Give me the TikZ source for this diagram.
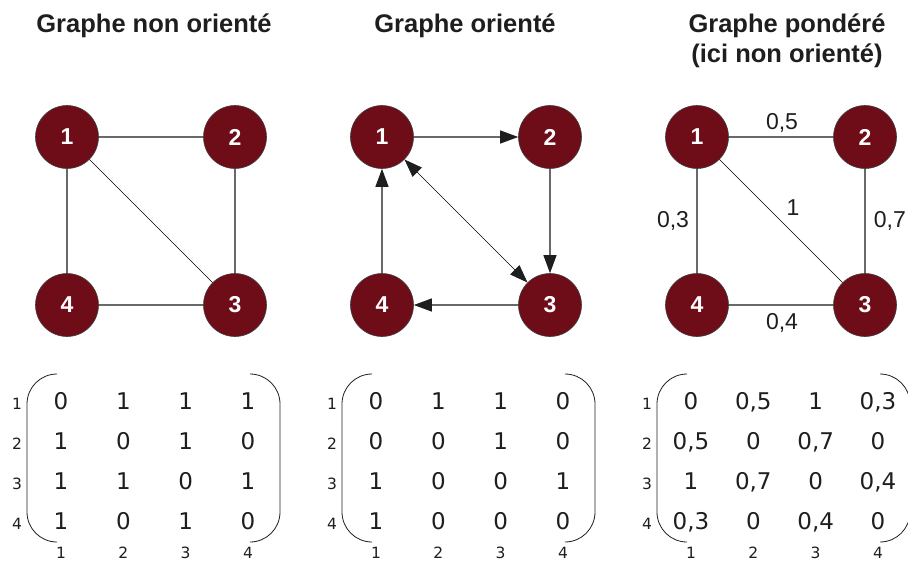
\documentclass[tikz,border=0pt]{standalone}
\usepackage{fontspec}
\setmainfont{Liberation Sans}
\newfontfamily\dvfont{DejaVu Sans}
\usetikzlibrary{arrows.meta}
\definecolor{nodered}{RGB}{110,12,24}
\definecolor{edgegray}{RGB}{105,105,105}
\definecolor{txt}{RGB}{30,30,30}
\newcommand\MatRow[4]{%
  \foreach \v [count=\c] in {#4}
    \node[ent] (m#1-#2-\c) at (#3+61+62.33*\c-62.33, 409+40.33*#2-40.33) {\v};}
\begin{document}
\begin{tikzpicture}[x=1pt,y=-1pt,
  vertex/.style={circle,fill=nodered,draw=black!75,line width=0.6pt,minimum size=63pt,inner sep=0pt,text=white,font=\fontsize{23}{27}\selectfont\bfseries},
  title/.style={font=\fontsize{25.5}{30}\selectfont\bfseries,anchor=base,text=txt},
  edge/.style={draw=edgegray,line width=1.1pt},
  diag/.style={draw=black,line width=0.7pt},
  tip/.tip={Triangle[length=18pt,width=13pt,color=txt]},
  arr/.style={-tip},
  wlab/.style={font=\fontsize{23}{27}\selectfont,text=txt},
  ent/.style={font=\dvfont\fontsize{23}{27}\selectfont,text=txt,anchor=base},
  idx/.style={font=\dvfont\fontsize{15.5}{18}\selectfont,text=txt,anchor=base},
  paren/.style={draw=txt,line width=0.8pt,rounded corners=30pt}]
\useasboundingbox (0,0) rectangle (908,560);

% titles
\node[title] (t1) at (154,32) {Graphe non orienté};
\node[title] (t2) at (465,32) {Graphe orienté};
\node[title] (t3a) at (787,32) {Graphe pondéré};
\node[title] (t3b) at (787,62) {(ici non orienté)};

% graph 1
\node[vertex] (a1) at (67,137) {1};
\node[vertex] (a2) at (235,137) {2};
\node[vertex] (a3) at (235,305) {3};
\node[vertex] (a4) at (67,305) {4};
\draw[edge] (a1) -- (a2);
\draw[edge] (a2) -- (a3);
\draw[edge] (a3) -- (a4);
\draw[edge] (a4) -- (a1);
\draw[diag] (a1) -- (a3);

% graph 2
\node[vertex] (b1) at (382,137) {1};
\node[vertex] (b2) at (550,137) {2};
\node[vertex] (b3) at (550,305) {3};
\node[vertex] (b4) at (382,305) {4};
\draw[edge,arr] (b1) -- (b2);
\draw[edge,arr] (b2) -- (b3);
\draw[edge,arr] (b3) -- (b4);
\draw[edge,arr] (b4) -- (b1);
\draw[diag,tip-tip] (b1) -- (b3);

% graph 3
\node[vertex] (c1) at (697,137) {1};
\node[vertex] (c2) at (865,137) {2};
\node[vertex] (c3) at (865,305) {3};
\node[vertex] (c4) at (697,305) {4};
\draw[edge] (c1) -- node[wlab,yshift=14pt,xshift=1pt] (w12) {0,5} (c2);
\draw[edge] (c2) -- node[wlab,anchor=west,xshift=5pt] (w23) {0,7} (c3);
\draw[edge] (c3) -- node[wlab,yshift=-18pt,xshift=1pt] (w34) {0,4} (c4);
\draw[edge] (c4) -- node[wlab,xshift=-24pt] (w14) {0,3} (c1);
\draw[diag] (c1) -- node[wlab,xshift=12pt,yshift=13pt] (w13) {1} (c3);

% matrices: brackets and indices
\foreach \p/\dx in {1/0,2/315,3/630}{
  \draw[paren] (\dx+57,374) -- (\dx+27,374) -- (\dx+27,542) -- (\dx+57,542);
  \draw[paren] (\dx+250,374) -- (\dx+280,374) -- (\dx+280,542) -- (\dx+250,542);
  \foreach \r in {1,...,4}{
    \node[idx] (ri\p-\r) at (\dx+17, 409+40.33*\r-40.33) {\r};
    \node[idx] (ci\p-\r) at (\dx+61+62.33*\r-62.33, 558) {\r};
  }
}

% matrix entries
\MatRow{1}{1}{0}{0,1,1,1}
\MatRow{1}{2}{0}{1,0,1,0}
\MatRow{1}{3}{0}{1,1,0,1}
\MatRow{1}{4}{0}{1,0,1,0}
\MatRow{2}{1}{315}{0,1,1,0}
\MatRow{2}{2}{315}{0,0,1,0}
\MatRow{2}{3}{315}{1,0,0,1}
\MatRow{2}{4}{315}{1,0,0,0}
\MatRow{3}{1}{630}{0,{0,5},1,{0,3}}
\MatRow{3}{2}{630}{{0,5},0,{0,7},0}
\MatRow{3}{3}{630}{1,{0,7},0,{0,4}}
\MatRow{3}{4}{630}{{0,3},0,{0,4},0}
\end{tikzpicture}
\end{document}
